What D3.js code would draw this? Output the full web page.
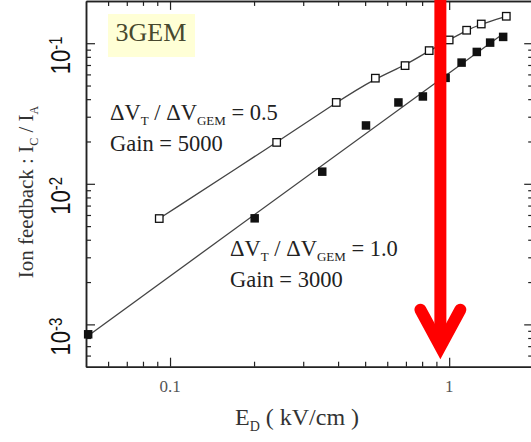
<!DOCTYPE html>
<html>
<head>
<meta charset="utf-8">
<script src="https://cdn.jsdelivr.net/npm/d3@7"></script>
<style>
  body { margin: 0; background: #fff; }
  svg { display: block; }
</style>
</head>
<body>
<script>
// data
const xDomain = [0.05, 2];
const yDomain = [5e-4, 0.2];

// dV_T / dV_GEM = 0.5, gain 5000 (open squares)
const openE  = [0.0915, 0.241, 0.394, 0.544, 0.695, 0.848, 1.0, 1.155, 1.303, 1.602];
const openIF = [0.00566, 0.0197, 0.0379, 0.0564, 0.0693, 0.0886, 0.1055, 0.1237, 0.137, 0.1555];

// dV_T / dV_GEM = 1.0, gain 3000 (filled squares)
const filledE  = [0.0509, 0.201, 0.351, 0.5035, 0.658, 0.805, 0.971, 1.108, 1.256, 1.402, 1.561];
const filledIF = [0.00085, 0.00568, 0.0122, 0.026, 0.0379, 0.0418, 0.0567, 0.0728, 0.0867, 0.101, 0.1109];

const xTickValues = [0.1, 1];
const xTickLabels = ["0.1", "1"];
const yTickValues = [1e-3, 1e-2, 1e-1];
const yTickExps = ["-3", "-2", "-1"];

const arrowE = 0.93;   // where the red arrow points

const width = 531, height = 442;
const serif = "'Liberation Serif', 'Times New Roman', serif";
const sans = "'Liberation Sans', Arial, sans-serif";

const svg = d3.select("body").append("svg")
    .attr("width", width)
    .attr("height", height)
    .style("overflow", "hidden");

const x = d3.scaleLog().domain(xDomain).range([86, 533.2]);
const y = d3.scaleLog().domain(yDomain).range([366.7, 0.9]);

const isMajor = v => Math.abs(Math.log10(v) - Math.round(Math.log10(v))) < 1e-6;
const inside = (s) => v => v > s.domain()[0] * 1.0001 && v < s.domain()[1] * 0.9999;

const xMinor = x.ticks().filter(inside(x)).filter(v => !isMajor(v));
const xMajor = x.ticks().filter(inside(x)).filter(isMajor);
const yMinor = y.ticks().filter(inside(y)).filter(v => !isMajor(v));
const yMajor = y.ticks().filter(inside(y)).filter(isMajor);

// axes: every side gets minor (short) and major (long) inward ticks
function drawAxis(axisFn, scale, transform) {
    const minor = scale === x ? xMinor : yMinor;
    const major = scale === x ? xMajor : yMajor;
    [[minor, -5], [major, -9]].forEach(([vals, size]) => {
        const g = svg.append("g").attr("transform", transform)
            .call(axisFn(scale).tickValues(vals).tickSize(size).tickSizeOuter(0).tickFormat(""));
        g.select(".domain").attr("stroke", "#222").attr("stroke-width", 1.5);
        g.selectAll(".tick line").attr("stroke", "#222").attr("stroke-width", 1.2);
    });
}
drawAxis(d3.axisBottom, x, `translate(0,${y.range()[0]})`);
drawAxis(d3.axisTop, x, `translate(0,${y.range()[1]})`);
drawAxis(d3.axisLeft, y, `translate(${x.range()[0]},0)`);
drawAxis(d3.axisRight, y, `translate(${x.range()[1]},0)`);

// 3GEM tag
svg.append("rect")
    .attr("x", 108).attr("y", 14)
    .attr("width", 87).attr("height", 43)
    .attr("fill", "#ffffd6");
svg.append("text")
    .attr("x", 115.5).attr("y", 41)
    .attr("font-family", serif)
    .attr("font-size", 26)
    .attr("fill", "#48482e")
    .text("3GEM");

// straight log-log fit for the filled series
function fitLine(xs, ys) {
    const lx = xs.map(Math.log10), ly = ys.map(Math.log10);
    const mx = d3.mean(lx), my = d3.mean(ly);
    const b = d3.sum(lx, (v, i) => (v - mx) * (ly[i] - my)) / d3.sum(lx, v => (v - mx) * (v - mx));
    const a = my - b * mx;
    return d3.extent(xs).map(v => [v, Math.pow(10, a + b * Math.log10(v))]);
}

const openPts = openE.map((v, i) => [v, openIF[i]]);
const filledPts = filledE.map((v, i) => [v, filledIF[i]]);

const line = d3.line().x(d => x(d[0])).y(d => y(d[1]));

// the open series' guide bends a little at high field, so smooth it through the points
svg.append("path")
    .attr("d", line.curve(d3.curveBasis)(openPts))
    .attr("fill", "none")
    .attr("stroke", "#444")
    .attr("stroke-width", 1.3);

svg.append("path")
    .attr("d", line.curve(d3.curveLinear)(fitLine(filledE, filledIF)))
    .attr("fill", "none")
    .attr("stroke", "#444")
    .attr("stroke-width", 1.3);

svg.selectAll(".open").data(openPts).enter().append("rect")
    .attr("class", "open")
    .attr("x", d => x(d[0]) - 3.75)
    .attr("y", d => y(d[1]) - 3.75)
    .attr("width", 7.5).attr("height", 7.5)
    .attr("fill", "#fff")
    .attr("stroke", "#111")
    .attr("stroke-width", 1.3);

svg.selectAll(".filled").data(filledPts).enter().append("rect")
    .attr("class", "filled")
    .attr("x", d => x(d[0]) - 4.25)
    .attr("y", d => y(d[1]) - 4.25)
    .attr("width", 8.5).attr("height", 8.5)
    .attr("fill", "#111");

// series annotations
function annotate(x0, y0, ratio, gain) {
    const t = svg.append("text")
        .attr("x", x0).attr("y", y0)
        .attr("font-family", serif)
        .attr("font-size", 22.5)
        .attr("fill", "#222");
    t.append("tspan").text("ΔV");
    t.append("tspan").attr("font-size", 13).attr("dy", 5).text("T");
    t.append("tspan").attr("dy", -5).text(" / ΔV");
    t.append("tspan").attr("font-size", 13).attr("dy", 5).text("GEM");
    t.append("tspan").attr("dy", -5).text(" = " + ratio);
    svg.append("text")
        .attr("x", x0).attr("y", y0 + 31)
        .attr("font-family", serif)
        .attr("font-size", 22.5)
        .attr("fill", "#222")
        .text("Gain = " + gain);
}
annotate(110, 120, "0.5", 5000);
annotate(230, 256, "1.0", 3000);

// tick labels
svg.selectAll(".xlab").data(xTickValues).enter().append("text")
    .attr("class", "xlab")
    .attr("x", d => x(d))
    .attr("y", 392)
    .attr("text-anchor", "middle")
    .attr("font-family", serif)
    .attr("font-size", 17)
    .attr("fill", "#555")
    .text((d, i) => xTickLabels[i]);

yTickValues.forEach((v, i) => {
    const t = svg.append("text")
        .attr("transform", `translate(70,${y(v) + 31}) rotate(-90) scale(1,1.25)`)
        .attr("font-family", sans)
        .attr("fill", "#111");
    t.append("tspan").attr("font-size", 22).text("10");
    t.append("tspan").attr("font-size", 15).attr("dy", -6.4).text(yTickExps[i]);
});

// axis titles
const xt = svg.append("text")
    .attr("x", 235).attr("y", 425)
    .attr("font-family", serif)
    .attr("font-size", 24)
    .attr("fill", "#333");
xt.append("tspan").text("E");
xt.append("tspan").attr("font-size", 14).attr("dy", 6).text("D");
xt.append("tspan").attr("dy", -6).text(" ( kV/cm )");

const yt = svg.append("text")
    .attr("transform", "translate(33,192) rotate(-90)")
    .attr("text-anchor", "middle")
    .attr("font-family", serif)
    .attr("font-size", 21)
    .attr("fill", "#333");
yt.append("tspan").text("Ion feedback : I");
yt.append("tspan").attr("font-size", 12).attr("dy", 5).text("C");
yt.append("tspan").attr("dy", -5).text(" / I");
yt.append("tspan").attr("font-size", 12).attr("dy", 5).text("A");

// red arrow overlay
const ax = x(arrowE);
const tipY = y.range()[0] - 20;
svg.append("path")
    .attr("d", `M${ax},-10 L${ax},${tipY}`)
    .attr("stroke", "#ff0000")
    .attr("stroke-width", 12)
    .attr("fill", "none");
svg.append("path")
    .attr("d", `M${ax - 20},${tipY - 37} L${ax},${tipY} L${ax + 20},${tipY - 37}`)
    .attr("stroke", "#ff0000")
    .attr("stroke-width", 12)
    .attr("stroke-linecap", "round")
    .attr("stroke-linejoin", "miter")
    .attr("fill", "none");
</script>
</body>
</html>
